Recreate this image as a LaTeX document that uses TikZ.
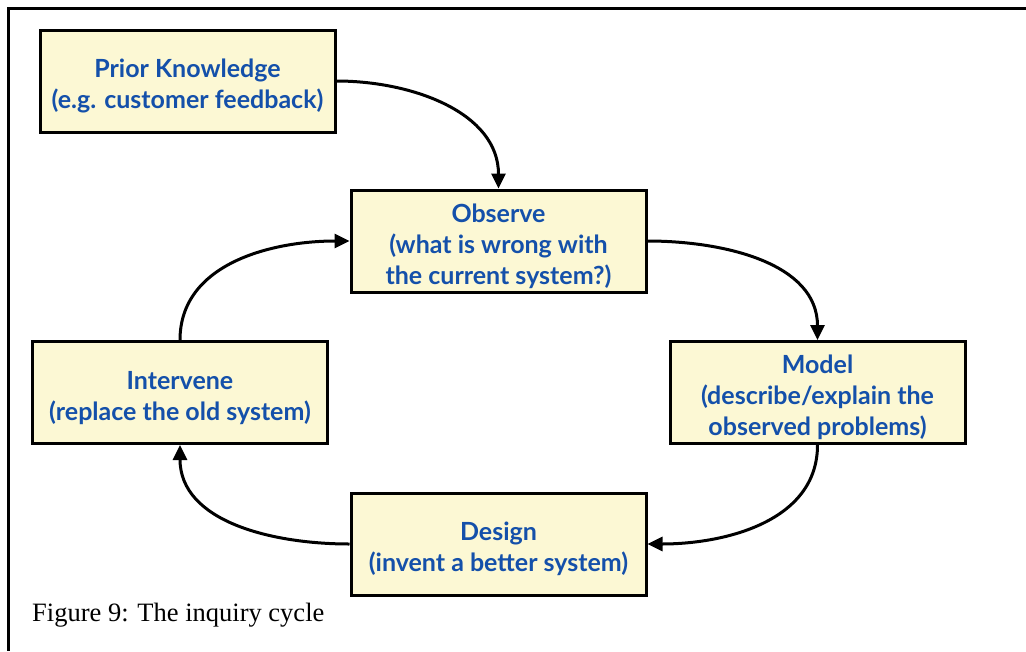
\documentclass[tikz,border=0pt]{standalone}
\usepackage{fontspec}
\setmainfont{Liberation Serif}
\newfontfamily\boxfont{Lato}
\usepackage{xcolor}
\usepackage{tikz}
\usetikzlibrary{arrows.meta,positioning}
\definecolor{boxfill}{RGB}{252,248,212}
\definecolor{boxtext}{RGB}{20,80,170}

\begin{document}
\begin{tikzpicture}[x=1pt,y=-1pt,
  stage/.style={draw=black,line width=3pt,fill=boxfill,text=boxtext,
    minimum width=295pt,minimum height=102pt,inner sep=0pt,align=center,
    font=\boxfont\bfseries\fontsize{25}{31}\selectfont},
  flow/.style={line width=3pt,-{Triangle[length=15pt,width=14pt]}}]
  \useasboundingbox (0,0) rectangle (1026,651);
  % 外框只有上边和左边
  \draw[line width=3pt] (1026,8) -- (8,8) -- (8,651);
  \node[stage] (prior) at (187.5,81) {\rule{0pt}{29pt}Prior Knowledge\\(e.g. customer feedback)};
  \node[stage] (observe) at (498.5,241) {\rule{0pt}{29pt}Observe\\(what is wrong with\\the current system?)};
  \node[stage] (model) at (817.5,392.5) {\rule{0pt}{29pt}Model\\(describe/explain the\\observed problems)};
  \node[stage] (intervene) at (180,392.5) {\rule{0pt}{29pt}Intervene\\(replace the old system)};
  \node[stage] (design) at (498.5,544) {\rule{0pt}{29pt}Design\\(invent a better system)};
  % 循环的箭头
  \draw[flow] (prior.east) to[out=0,in=90] (observe.north);
  \draw[flow] (observe.east) to[out=0,in=90] (model.north);
  \draw[flow] (model.south) to[out=-90,in=0] (design.east);
  \draw[flow] (design.west) to[out=180,in=-90] (intervene.south);
  \draw[flow] (intervene.north) to[out=90,in=180] (observe.west);
  \node[anchor=base west,inner sep=0pt,font=\fontsize{26.5}{30}\selectfont] (caption) at (32,621) {Figure 9: The inquiry cycle};
\end{tikzpicture}
\end{document}
